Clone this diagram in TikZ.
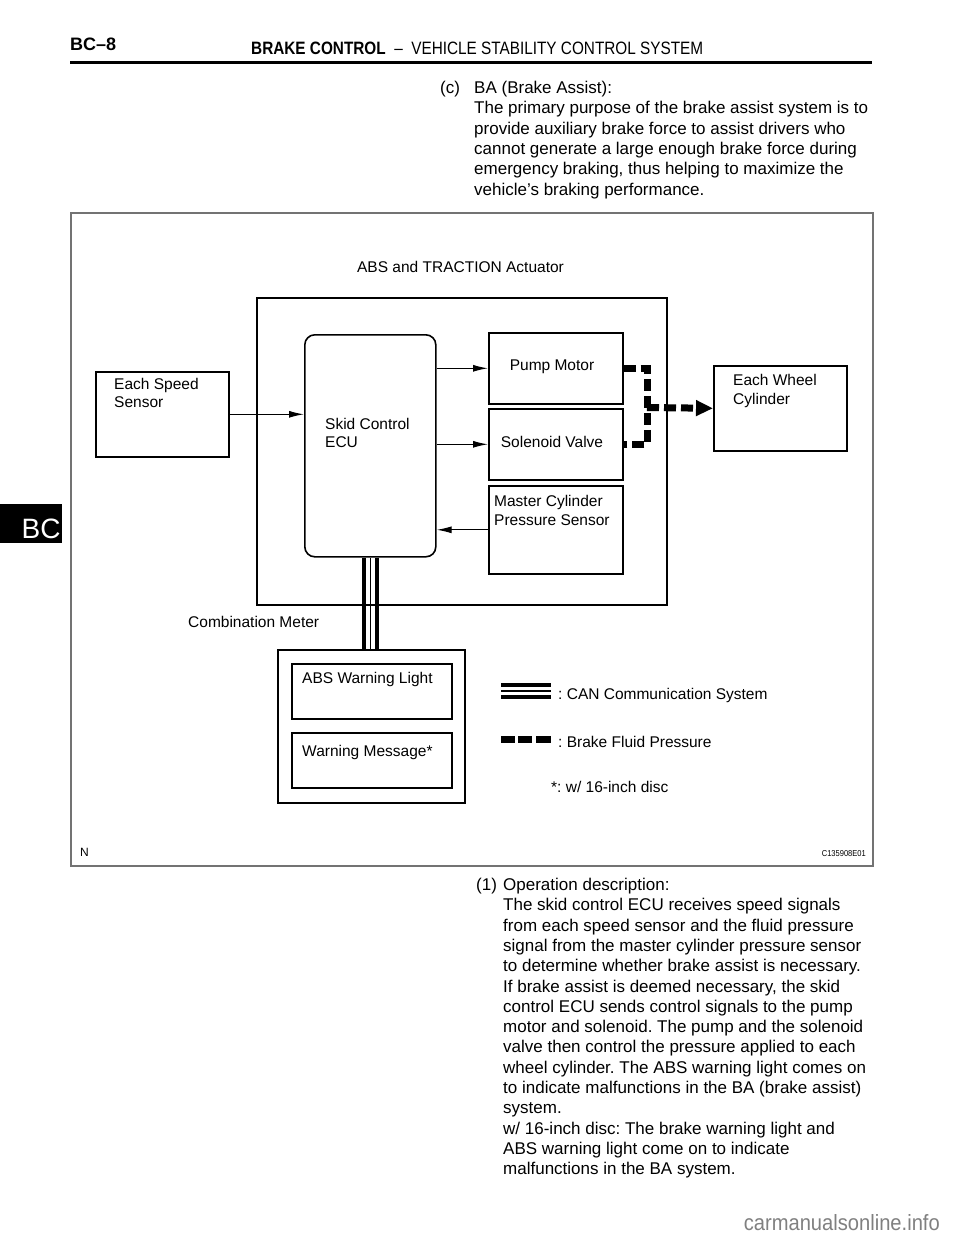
\documentclass[tikz,border=0pt]{standalone}
\usepackage{fontspec}
\usepackage{graphicx}
\setmainfont{Liberation Sans}
\usetikzlibrary{arrows.meta}
\frenchspacing
\definecolor{framegray}{gray}{0.45}
\definecolor{wmgray}{gray}{0.5}
\tikzset{
  lbl/.style={anchor=base west, inner sep=0pt, font=\fontsize{15.5}{19}\selectfont},
  bodytxt/.style={anchor=base west, inner sep=0pt, font=\fontsize{17}{20.3}\selectfont},
  boxr/.style={draw, line width=1.6pt, anchor=north west, inner sep=0pt},
  sig/.style={line width=1.2pt, -{Latex[length=15pt,width=7pt]}},
  fluid/.style={line width=7pt, dash pattern=on 12pt off 5pt},
  canthick/.style={line width=3.7pt},
  canthin/.style={line width=1.2pt},
}
\begin{document}
\begin{tikzpicture}[x=1pt,y=-1pt]
\useasboundingbox (0,0) rectangle (960,1242);
\fill[white] (0,0) rectangle (960,1242);

% header
\node[anchor=base west, inner sep=0pt, font=\fontsize{18}{20}\selectfont\bfseries] (pgno) at (70,50) {BC–8};
\node[anchor=base west, inner sep=0pt, font=\fontsize{17}{20}\selectfont] (title) at (251,54)
  {\resizebox{452pt}{12.5pt}{\textbf{BRAKE CONTROL}\ \ –\ \ VEHICLE STABILITY CONTROL SYSTEM}};
\draw[line width=3pt] (70,62) -- (872,62);

% side tab
\fill[black] (0,504) rectangle (62,543);
\node[anchor=base west, inner sep=0pt, text=white, font=\fontsize{28}{30}\selectfont] (tab) at (21.5,538) {BC};

% top paragraph
\node[bodytxt] (c) at (440,93.5) {(c)};
\node[bodytxt] (t1) at (474,93.5) {BA (Brake Assist):};
\node[bodytxt] (t2) at (474,113.8) {The primary purpose of the brake assist system is to};
\node[bodytxt] (t3) at (474,134.1) {provide auxiliary brake force to assist drivers who};
\node[bodytxt] (t4) at (474,154.4) {cannot generate a large enough brake force during};
\node[bodytxt] (t5) at (474,174.7) {emergency braking, thus helping to maximize the};
\node[bodytxt] (t6) at (474,195.0) {vehicle\char39 s braking performance.};

% figure frame
\node[draw=framegray, line width=1.5pt, anchor=north west, inner sep=0pt, minimum width=802pt, minimum height=653pt] (frame) at (70,212) {};

% actuator
\node[lbl, anchor=base] (acttitle) at (460.5,272) {ABS and TRACTION Actuator};
\node[boxr, line width=2pt, minimum width=410pt, minimum height=307pt] (act) at (256,297) {};

% boxes
\node[boxr, minimum width=133pt, minimum height=85pt] (speed) at (95,371) {};
\node[boxr, rounded corners=10pt, minimum width=131pt, minimum height=222pt] (ecu) at (304,334) {};
\node[boxr, minimum width=134pt, minimum height=71pt] (pump) at (488,332) {};
\node[boxr, minimum width=134pt, minimum height=71pt] (sol) at (488,408) {};
\node[boxr, minimum width=134pt, minimum height=88pt] (mcps) at (488,485) {};
\node[boxr, minimum width=133pt, minimum height=85pt] (wheel) at (713,365) {};

% labels
\node[lbl] (sp1) at (114,389) {Each Speed};
\node[lbl] (sp2) at (114,407.5) {Sensor};
\node[lbl] (ec1) at (325,429) {Skid Control};
\node[lbl] (ec2) at (325,447.5) {ECU};
\node[lbl, anchor=base] (pm) at (552,370.5) {Pump Motor};
\node[lbl, anchor=base] (sv) at (552,447.5) {Solenoid Valve};
\node[lbl] (mc1) at (494,506) {Master Cylinder};
\node[lbl] (mc2) at (494,525) {Pressure Sensor};
\node[lbl] (wc1) at (733,385) {Each Wheel};
\node[lbl] (wc2) at (733,404) {Cylinder};

% signal arrows
\draw[sig] (speed.east) -- (speed.east -| ecu.west);
\draw[sig] (pump.west -| ecu.east) -- (pump.west);
\draw[sig] (sol.west -| ecu.east) -- (sol.west);
\draw[sig] (mcps.west) -- (mcps.west -| ecu.east);

% brake fluid pressure
\coordinate (j) at (647,407.5);
\draw[fluid] (pump.east) -- (pump.east -| j) -- (sol.east -| j) -- (sol.east);
\draw[fluid, -{Triangle[length=17pt,width=15pt]}] (j) -- (wheel.west);

% combination meter
\node[lbl] (cmlbl) at (188,627) {Combination Meter};
\node[boxr, line width=2pt, minimum width=187pt, minimum height=153pt] (combo) at (277,649) {};
\node[boxr, minimum width=160pt, minimum height=55pt] (absl) at (291,663) {};
\node[boxr, minimum width=160pt, minimum height=55pt] (wmsg) at (291,732) {};
\node[lbl] (absltxt) at (302,683) {ABS Warning Light};
\node[lbl] (wmsgtxt) at (302,756) {Warning Message*};

% CAN lines
\draw[canthick] ([xshift=-6pt]ecu.south) -- ([xshift=-6pt]ecu.south |- combo.north);
\draw[canthin] (ecu.south) -- (ecu.south |- combo.north);
\draw[canthick] ([xshift=6.5pt]ecu.south) -- ([xshift=6.5pt]ecu.south |- combo.north);

% legend
\draw[canthick] (501,685) -- (551,685);
\draw[canthin] (501,691) -- (551,691);
\draw[canthick] (501,697) -- (551,697);
\node[lbl] (lg1) at (558,699) {: CAN Communication System};
\fill (501,736) rectangle (515,743);
\fill (518,736) rectangle (532,743);
\fill (536,736) rectangle (551,743);
\node[lbl] (lg2) at (558,747) {: Brake Fluid Pressure};
\node[lbl] (lg3) at (551,792) {*: w/ 16-inch disc};

% frame corner texts
\node[anchor=base west, inner sep=0pt, font=\fontsize{12}{14}\selectfont] (nn) at (80,856) {N};
\node[anchor=base east, inner sep=0pt] (code) at (866,856) {\resizebox{44pt}{6pt}{C135908E01}};

% bottom paragraph
\node[bodytxt] (b0) at (476,890.5) {(1)};
\node[bodytxt] (b1) at (503,890.5) {Operation description:};
\node[bodytxt] (b2) at (503,910.8) {The skid control ECU receives speed signals};
\node[bodytxt] (b3) at (503,931.1) {from each speed sensor and the fluid pressure};
\node[bodytxt] (b4) at (503,951.4) {signal from the master cylinder pressure sensor};
\node[bodytxt] (b5) at (503,971.7) {to determine whether brake assist is necessary.};
\node[bodytxt] (b6) at (503,992.0) {If brake assist is deemed necessary, the skid};
\node[bodytxt] (b7) at (503,1012.3) {control ECU sends control signals to the pump};
\node[bodytxt] (b8) at (503,1032.6) {motor and solenoid. The pump and the solenoid};
\node[bodytxt] (b9) at (503,1052.9) {valve then control the pressure applied to each};
\node[bodytxt] (b10) at (503,1073.2) {wheel cylinder. The ABS warning light comes on};
\node[bodytxt] (b11) at (503,1093.5) {to indicate malfunctions in the BA (brake assist)};
\node[bodytxt] (b12) at (503,1113.8) {system.};
\node[bodytxt] (b13) at (503,1134.1) {w/ 16-inch disc: The brake warning light and};
\node[bodytxt] (b14) at (503,1154.4) {ABS warning light come on to indicate};
\node[bodytxt] (b15) at (503,1174.7) {malfunctions in the BA system.};

% watermark
\node[anchor=base east, inner sep=0pt, text=wmgray] (wm) at (940,1230) {\resizebox{196pt}{16pt}{carmanualsonline.info}};
\end{tikzpicture}
\end{document}
